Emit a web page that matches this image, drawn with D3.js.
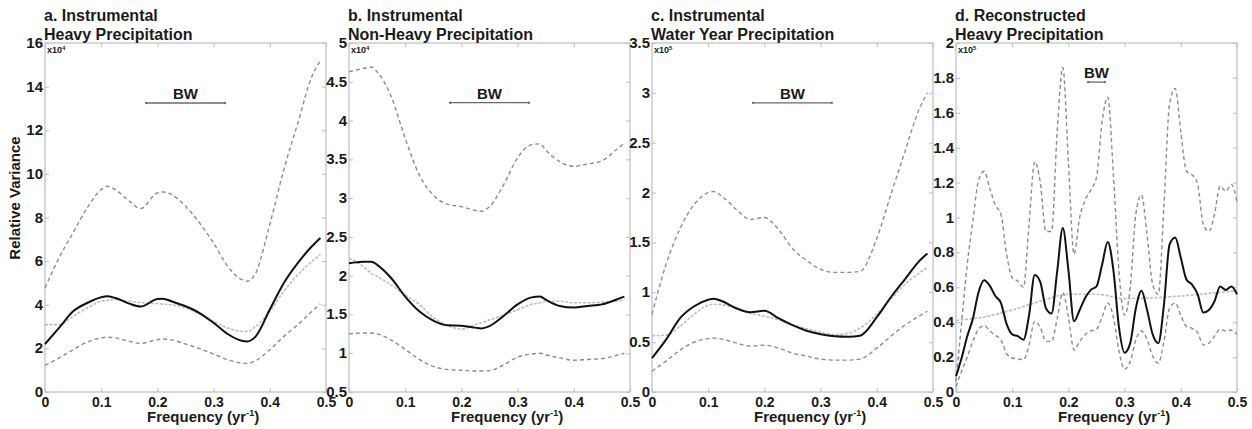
<!DOCTYPE html>
<html>
<head>
<meta charset="utf-8">
<script src="https://cdn.jsdelivr.net/npm/d3@7"></script>
<style>
  body { margin: 0; background: #fff; }
  text { font-family: "Liberation Sans", Arial, sans-serif; font-weight: bold; fill: #1a1a1a; }
</style>
</head>
<body>
<svg id="chart" width="1252" height="429"></svg>
<script>
// ---- data ----
// a. instrumental heavy precipitation (x10^4)
var freqA  = [0,0.025,0.05,0.075,0.1,0.11,0.125,0.15,0.17,0.2,0.21,0.225,0.25,0.275,0.3,0.325,0.35,0.36,0.375,0.4,0.425,0.45,0.475,0.49];
var specA  = [2.2,2.94,3.7,4.08,4.34,4.39,4.31,4.05,3.92,4.26,4.28,4.16,3.93,3.62,3.17,2.66,2.35,2.32,2.55,3.78,5.0,5.92,6.68,7.06];
var upperA = [4.77,6.15,7.3,8.44,9.28,9.43,9.28,8.75,8.41,9.13,9.17,9.05,8.52,7.75,6.83,5.76,5.15,5.08,5.46,7.68,10.2,12.34,14.48,15.17];
var lowerA = [1.22,1.56,1.94,2.29,2.48,2.51,2.48,2.32,2.23,2.4,2.43,2.39,2.2,1.99,1.74,1.48,1.33,1.31,1.44,1.94,2.55,3.09,3.7,4.04];
var nullA  = [3.09,3.09,3.47,3.85,4.16,4.2,4.24,4.16,4.1,4.05,4.03,4.0,3.85,3.58,3.24,2.94,2.78,2.78,3.01,3.7,4.62,5.38,5.99,6.3];
var ticksA = [0,2,4,6,8,10,12,14,16];

// b. instrumental non-heavy precipitation (x10^4)
var freqB  = [0,0.025,0.04,0.05,0.075,0.1,0.125,0.15,0.175,0.2,0.225,0.235,0.25,0.275,0.3,0.325,0.34,0.35,0.375,0.4,0.425,0.45,0.475,0.49];
var specB  = [2.16,2.18,2.18,2.14,1.97,1.73,1.54,1.42,1.36,1.355,1.33,1.32,1.35,1.48,1.63,1.72,1.73,1.69,1.61,1.59,1.61,1.63,1.69,1.73];
var upperB = [4.63,4.67,4.69,4.63,4.31,3.77,3.3,3.04,2.92,2.89,2.84,2.83,2.89,3.17,3.52,3.69,3.7,3.62,3.47,3.41,3.44,3.48,3.62,3.71];
var lowerB = [1.25,1.26,1.26,1.25,1.17,1.05,0.92,0.83,0.79,0.78,0.77,0.77,0.775,0.85,0.95,0.99,1.0,0.98,0.94,0.91,0.92,0.93,0.97,1.0];
var nullB  = [2.23,2.12,2.03,1.99,1.88,1.75,1.63,1.46,1.36,1.31,1.37,1.39,1.43,1.49,1.56,1.63,1.65,1.67,1.67,1.65,1.65,1.66,1.67,1.69];
var ticksB = [0.5,1,1.5,2,2.5,3,3.5,4,4.5,5];

// c. instrumental water year precipitation (x10^5)
var freqC  = [0,0.025,0.05,0.075,0.1,0.11,0.125,0.15,0.175,0.2,0.225,0.25,0.275,0.3,0.325,0.35,0.37,0.4,0.425,0.45,0.475,0.49];
var specC  = [0.34,0.525,0.74,0.86,0.926,0.936,0.91,0.84,0.8,0.815,0.74,0.67,0.615,0.58,0.56,0.555,0.565,0.75,0.95,1.13,1.31,1.39];
var upperC = [0.78,1.28,1.64,1.88,2.0,2.01,1.96,1.83,1.73,1.75,1.63,1.44,1.32,1.23,1.2,1.2,1.21,1.54,1.98,2.41,2.83,3.0];
var lowerC = [0.21,0.31,0.42,0.5,0.535,0.54,0.53,0.49,0.46,0.47,0.44,0.39,0.36,0.33,0.32,0.32,0.33,0.44,0.56,0.67,0.76,0.81];
var nullC  = [0.565,0.57,0.66,0.78,0.87,0.88,0.875,0.84,0.79,0.76,0.725,0.675,0.635,0.6,0.575,0.59,0.64,0.78,0.93,1.08,1.19,1.25];
var ticksC = [0,0.5,1,1.5,2,2.5,3,3.5];

// d. reconstructed heavy precipitation (x10^5)
var freqD  = [0,0.01,0.02,0.03,0.04,0.05,0.06,0.07,0.08,0.09,0.1,0.11,0.12,0.13,0.14,0.15,0.16,0.17,0.18,0.19,0.2,
              0.21,0.22,0.23,0.24,0.25,0.26,0.27,0.28,0.29,0.3,0.31,0.32,0.33,0.34,0.35,0.36,0.37,0.38,0.39,0.4,
              0.41,0.42,0.43,0.44,0.45,0.46,0.47,0.48,0.49,0.5];
var specD  = [0.09,0.195,0.32,0.42,0.57,0.64,0.61,0.55,0.51,0.39,0.33,0.32,0.3,0.44,0.67,0.63,0.48,0.45,0.69,0.94,0.7,
              0.405,0.47,0.54,0.585,0.605,0.73,0.86,0.7,0.37,0.225,0.28,0.48,0.58,0.47,0.33,0.28,0.5,0.845,0.885,0.77,
              0.645,0.615,0.56,0.455,0.47,0.52,0.605,0.585,0.605,0.56];
var upperD = [0.06,0.4,0.73,0.98,1.21,1.265,1.17,1.07,1.02,0.79,0.655,0.635,0.6,0.96,1.32,1.2,0.92,0.92,1.49,1.86,1.32,
              0.79,1.0,1.1,1.16,1.23,1.55,1.69,1.25,0.69,0.44,0.6,1.02,1.13,0.9,0.615,0.56,1.07,1.65,1.74,1.49,
              1.265,1.245,1.19,0.96,0.92,1.02,1.18,1.15,1.19,1.09];
var lowerD = [0.03,0.12,0.2,0.29,0.36,0.38,0.35,0.325,0.3,0.22,0.195,0.19,0.185,0.27,0.405,0.37,0.29,0.29,0.42,0.57,0.43,
              0.24,0.29,0.33,0.35,0.36,0.43,0.51,0.43,0.235,0.13,0.175,0.3,0.35,0.3,0.205,0.165,0.29,0.48,0.51,0.44,
              0.375,0.365,0.34,0.27,0.28,0.32,0.36,0.35,0.355,0.33];
var freqDNull = [0,0.05,0.1,0.15,0.2,0.25,0.3,0.35,0.4,0.45,0.5];
var nullD  = [0.41,0.43,0.47,0.52,0.56,0.56,0.535,0.54,0.55,0.565,0.58];
var ticksD = [0,0.2,0.4,0.6,0.8,1,1.2,1.4,1.6,1.8,2];

var freqTicks = [0,0.1,0.2,0.3,0.4,0.5];

// ---- layout ----
var plotLeft = [45, 349, 652, 956];
var plotW = 281, plotTop = 43, plotBottom = 392;
var boxColor = '#c4c4c4';

var panels = [
  {title: ['a. Instrumental', 'Heavy Precipitation'], ticks: ticksA, exp: '4', bw: [0.18, 0.32, 13.25],
   freq: freqA, spec: specA, upper: upperA, lower: lowerA, nullFreq: freqA, nul: nullA},
  {title: ['b. Instrumental', 'Non-Heavy Precipitation'], ticks: ticksB, exp: '4', bw: [0.18, 0.32, 4.23],
   freq: freqB, spec: specB, upper: upperB, lower: lowerB, nullFreq: freqB, nul: nullB},
  {title: ['c. Instrumental', 'Water Year Precipitation'], ticks: ticksC, exp: '5', bw: [0.18, 0.32, 2.9],
   freq: freqC, spec: specC, upper: upperC, lower: lowerC, nullFreq: freqC, nul: nullC},
  {title: ['d. Reconstructed', 'Heavy Precipitation'], ticks: ticksD, exp: '5', bw: [0.235, 0.265, 1.776],
   freq: freqD, spec: specD, upper: upperD, lower: lowerD, nullFreq: freqDNull, nul: nullD}
];

var svg = d3.select('#chart');
var fmt = d3.format('~g');

panels.forEach(function(p, i) {
  var left = plotLeft[i];
  var x = d3.scaleLinear().domain([0, 0.5]).range([left, left + plotW]);
  var y = d3.scaleLinear().domain(d3.extent(p.ticks)).range([plotBottom, plotTop]);
  var g = svg.append('g');

  // frame
  g.append('rect')
    .attr('x', left).attr('y', plotTop)
    .attr('width', plotW).attr('height', plotBottom - plotTop)
    .attr('fill', 'none').attr('stroke', boxColor).attr('stroke-width', 1.3);

  function styleAxis(sel, size) {
    sel.select('.domain').remove();
    sel.selectAll('.tick line').attr('stroke', boxColor).attr('stroke-width', 1.2);
    sel.selectAll('text').style('font-size', size + 'px').attr('fill', '#1a1a1a');
  }

  var yl = g.append('g').attr('transform', 'translate(' + left + ',0)')
    .call(d3.axisLeft(y).tickValues(p.ticks).tickFormat(fmt).tickSize(-4).tickPadding(2));
  styleAxis(yl, 15);
  yl.selectAll('text').attr('dy', '0.3em');

  var yr = g.append('g').attr('transform', 'translate(' + (left + plotW) + ',0)')
    .call(d3.axisRight(y).tickValues(p.ticks).tickFormat('').tickSize(-4));
  styleAxis(yr, 15);

  var xt = g.append('g').attr('transform', 'translate(0,' + plotTop + ')')
    .call(d3.axisTop(x).tickValues(freqTicks).tickFormat('').tickSize(-4));
  styleAxis(xt, 15);

  var xb = g.append('g').attr('transform', 'translate(0,' + plotBottom + ')')
    .call(d3.axisBottom(x).tickValues(freqTicks).tickFormat(fmt).tickSize(-4));
  styleAxis(xb, 14);
  xb.selectAll('text').attr('y', 14.5).attr('dy', null);

  // curves
  var line = d3.line()
    .x(function(d) { return x(d[0]); })
    .y(function(d) { return y(d[1]); })
    .curve(d3.curveMonotoneX);
  function pts(fr, vals) { return fr.map(function(f, k) { return [f, vals[k]]; }); }

  g.append('path').attr('d', line(pts(p.nullFreq, p.nul)))
    .attr('fill', 'none').attr('stroke', '#bdbdbd').attr('stroke-width', 1.6)
    .attr('stroke-dasharray', '3,1.5');
  [p.upper, p.lower].forEach(function(vals) {
    g.append('path').attr('d', line(pts(p.freq, vals)))
      .attr('fill', 'none').attr('stroke', '#8c8c8c').attr('stroke-width', 1.4)
      .attr('stroke-dasharray', '4,3');
  });
  g.append('path').attr('d', line(pts(p.freq, p.spec)))
    .attr('fill', 'none').attr('stroke', '#111').attr('stroke-width', 2);

  // bandwidth marker
  var bx0 = x(p.bw[0]), bx1 = x(p.bw[1]), by = y(p.bw[2]);
  g.append('line').attr('x1', bx0).attr('x2', bx1).attr('y1', by).attr('y2', by)
    .attr('stroke', '#6a6a6a').attr('stroke-width', 1.3);
  [bx0, bx1].forEach(function(bx) {
    g.append('circle').attr('cx', bx).attr('cy', by).attr('r', 1.2).attr('fill', '#6a6a6a');
  });
  g.append('text').attr('x', (bx0 + bx1) / 2).attr('y', by - 4)
    .attr('text-anchor', 'middle').style('font-size', '15px').text('BW');

  // exponent label
  var ex = g.append('text').attr('x', left + 2).attr('y', plotTop + 10).style('font-size', '9px');
  ex.append('tspan').text('x10');
  ex.append('tspan').attr('dy', -3).style('font-size', '6px').text(p.exp);

  // titles
  g.append('text').attr('x', left - 1).attr('y', 20.5).style('font-size', '16px').text(p.title[0]);
  g.append('text').attr('x', left - 1).attr('y', 39.5).style('font-size', '16px').text(p.title[1]);

  // x label
  var xlab = g.append('text').attr('x', left + 102).attr('y', 422).style('font-size', '15px');
  xlab.append('tspan').text('Frequency (yr');
  xlab.append('tspan').attr('dy', -6).style('font-size', '9px').text('-1');
  xlab.append('tspan').attr('dy', 6).text(')');
});

svg.append('text')
  .attr('transform', 'translate(20,198) rotate(-90)')
  .attr('text-anchor', 'middle').style('font-size', '15px')
  .text('Relative Variance');
</script>
</body>
</html>
